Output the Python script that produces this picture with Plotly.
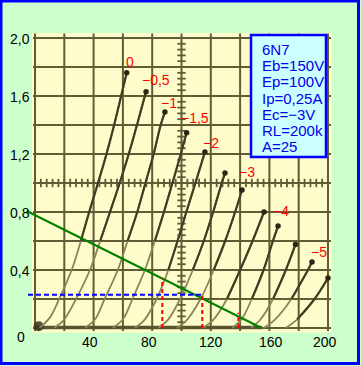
import plotly.graph_objects as go

# ---------------- data ----------------
grid_bias_labels = ["0", "−0,5", "−1", "−1,5", "−2", "−3", "−4", "−5"]

# plate voltage (V) / plate current (mA) (Ug = 0 ... -5.5 V step 0.5)
plate_voltage_curves = [
    [3, 10, 16.5, 25, 31.3, 37, 43, 48.8, 54, 58.8, 62.6],
    [13, 20, 28, 37.5, 44.5, 51.2, 57.8, 64, 69.6, 75.8],
    [34, 41, 47.5, 56.5, 63.2, 69.8, 75.4, 81, 85.8, 88.7],
    [53, 60, 66.5, 75, 81.8, 88, 93.8, 99.5, 103.5],
    [68, 75, 83, 91, 97.3, 103.3, 109.5, 116],
    [84, 91, 99, 107.7, 115.2, 121.6, 127.5, 129.7],
    [97, 104, 113, 122, 129.8, 136.6, 141.3],
    [114.5, 122, 131, 140, 148.5, 156.3],
    [134.5, 141, 148, 156, 162.4, 165.9],
    [147.5, 154, 162.5, 171.2, 177.8],
    [156, 164, 175, 186.3, 189.1],
    [171, 179, 190.8, 200],
]
plate_current_curves = [
    [0, 0.07, 0.2, 0.4, 0.6, 0.8, 1.0, 1.2, 1.4, 1.6, 1.76],
    [0, 0.06, 0.2, 0.4, 0.6, 0.8, 1.0, 1.2, 1.4, 1.63],
    [0, 0.06, 0.2, 0.4, 0.6, 0.8, 1.0, 1.2, 1.4, 1.49],
    [0, 0.06, 0.2, 0.4, 0.6, 0.8, 1.0, 1.2, 1.347],
    [0, 0.06, 0.2, 0.4, 0.6, 0.8, 1.0, 1.214],
    [0, 0.06, 0.2, 0.4, 0.6, 0.8, 1.0, 1.069],
    [0, 0.06, 0.2, 0.4, 0.6, 0.8, 0.952],
    [0, 0.06, 0.2, 0.4, 0.6, 0.8],
    [0, 0.06, 0.2, 0.4, 0.6, 0.703],
    [0, 0.06, 0.2, 0.4, 0.576],
    [0, 0.06, 0.2, 0.4, 0.455],
    [0, 0.06, 0.2, 0.345],
]

load_line_va = [-5.7, 154.7]
load_line_ip = [0.807, 0.0]
operating_ip = 0.23
projection_va = [86.9, 114.2, 138.8]
projection_ip = [0.345, 0.23, 0.105]
baseline_va = [0, 155]

x_tick_vals = [40, 80, 120, 160, 200]
x_tick_text = ["40", "80", "120", "160", "200"]
y_tick_vals = [0.4, 0.8, 1.2, 1.6, 2.0]
y_tick_text = ["0,4", "0,8", "1,2", "1,6", "2,0"]
info_lines = ["6N7", "Eb=150V", "Ep=100V", "Ip=0,25A", "Ec=−3V", "RL=200k", "A=25"]

# ---------------- layout geometry ----------------
W, H = 361, 366
ML, MR, MT, MB = 23, 28, 33, 33
PX0, PXS = 35.0, 1.465      # pixel of Va=0, pixels per volt
PY0, PYS = 328.0, 145.0     # pixel of Ip=0, pixels per mA


def px2x(px):
    return (px - PX0) / PXS


def py2y(py):
    return (PY0 - py) / PYS


def ppx(px):
    return (px - ML) / (W - ML - MR)


def ppy(py):
    return (H - MB - py) / (H - MT - MB)


X_RANGE = [px2x(ML), px2x(W - MR)]
Y_RANGE = [py2y(H - MB), py2y(MT)]

GRID = "#5f5c36"
FONT = "Liberation Sans, Arial, sans-serif"

fig = go.Figure()

# thick dark baseline and origin smudge
fig.add_trace(go.Scatter(x=baseline_va, y=[0.004, 0.004], mode="lines",
                         line=dict(color="#57532f", width=3.5), hoverinfo="skip"))
fig.add_trace(go.Scatter(x=[2.5], y=[0.012], mode="markers",
                         marker=dict(size=10, color="#33311b", opacity=0.85), hoverinfo="skip"))

# graticule ticks on the centre cross
fig.add_trace(go.Scatter(x=[v * 4 for v in range(51)], y=[1.0] * 51, mode="markers",
                         marker=dict(symbol="line-ns", size=6, line=dict(color=GRID, width=1.8)),
                         hoverinfo="skip"))
fig.add_trace(go.Scatter(x=[100] * 51, y=[v * 0.04 for v in range(51)], mode="markers",
                         marker=dict(symbol="line-ew", size=6, line=dict(color=GRID, width=1.8)),
                         hoverinfo="skip"))

# characteristic curves
for va, ip in zip(plate_voltage_curves, plate_current_curves):
    fig.add_trace(go.Scatter(x=va, y=ip, mode="lines", line_shape="spline",
                             line=dict(color="#8a845a", width=1.8), hoverinfo="skip"))
    top = ip[-1]
    k = next(i for i, v in enumerate(ip) if v >= 0.45 * top)
    k = max(k - 1, 0)
    fig.add_trace(go.Scatter(x=va[k:], y=ip[k:], mode="lines", line_shape="spline",
                             line=dict(color="#403d24", width=2.2), hoverinfo="skip"))
    fig.add_trace(go.Scatter(x=[va[-1]], y=[ip[-1]], mode="markers",
                             marker=dict(size=5.5, color="#2a2814"), hoverinfo="skip"))

# load line
fig.add_trace(go.Scatter(x=load_line_va, y=load_line_ip, mode="lines",
                         line=dict(color="#008000", width=2), hoverinfo="skip"))

# operating point projections
fig.add_trace(go.Scatter(x=[px2x(28), projection_va[1]], y=[operating_ip, operating_ip], mode="lines",
                         line=dict(color="#0000ff", width=2, dash="5px,3px"), hoverinfo="skip"))
for va, ip in zip(projection_va, projection_ip):
    fig.add_trace(go.Scatter(x=[va, va], y=[0, ip], mode="lines",
                             line=dict(color="#ff0000", width=2, dash="4px,3px"), hoverinfo="skip"))

shapes = []
# beige chart paper
shapes.append(dict(type="rect", xref="x", yref="y", x0=px2x(32), x1=px2x(331.5),
                   y0=py2y(332.5), y1=py2y(33), fillcolor="#fffccc", line=dict(width=0), layer="below"))
for i in range(11):
    v = i * 20
    shapes.append(dict(type="line", xref="x", yref="y", x0=v, x1=v, y0=py2y(331), y1=py2y(33.5),
                       line=dict(color=GRID, width=2), layer="below"))
    h = i * 0.2
    shapes.append(dict(type="line", xref="x", yref="y", x0=px2x(33), x1=px2x(331), y0=h, y1=h,
                       line=dict(color=GRID, width=2), layer="below"))
# info box
shapes.append(dict(type="rect", xref="x", yref="y", x0=px2x(251), x1=px2x(326),
                   y0=py2y(157), y1=py2y(35), fillcolor="#ccffff",
                   line=dict(color="#0000ff", width=2.5), layer="above"))
# outer border
shapes.append(dict(type="rect", xref="paper", yref="paper", x0=ppx(1), x1=ppx(358.5),
                   y0=ppy(363.5), y1=ppy(1), line=dict(color="#0000ff", width=3),
                   fillcolor="rgba(0,0,0,0)", layer="above"))

ann = []
for v, t in zip(y_tick_vals, y_tick_text):
    ann.append(dict(x=ppx(32), y=v, xref="paper", yref="y", text=t, showarrow=False,
                    xanchor="right", yanchor="middle", yshift=-1,
                    font=dict(family=FONT, size=14, color="#000000")))
x_label_px = [90, 149, 211, 271, 325]
for v, t, c in zip(x_tick_vals, x_tick_text, x_label_px):
    ann.append(dict(x=v, y=ppy(342), xref="x", yref="paper", text=t, showarrow=False,
                    xanchor="center", yanchor="middle", xshift=c - (PX0 + v * PXS),
                    font=dict(family=FONT, size=14, color="#000000")))
ann.append(dict(x=ppx(21), y=ppy(337), xref="paper", yref="paper", text="0", showarrow=False,
                xanchor="center", yanchor="middle", font=dict(family=FONT, size=14, color="#000000")))

label_px = [(129.5, 62), (156, 80), (168.5, 103), (195, 118), (210.5, 143),
            (247, 172), (280.5, 211), (319, 252)]
for t, (lx, ly) in zip(grid_bias_labels, label_px):
    ann.append(dict(x=px2x(lx), y=py2y(ly), xref="x", yref="y", text=t, showarrow=False,
                    xanchor="center", yanchor="middle",
                    font=dict(family=FONT, size=14, color="#ff0000")))

info_py = [49, 65, 81, 98, 114, 130, 146]
for t, ly in zip(info_lines, info_py):
    ann.append(dict(x=px2x(260), y=py2y(ly), xref="x", yref="y", text=t, showarrow=False,
                    xanchor="left", yanchor="middle",
                    font=dict(family=FONT, size=15, color="#0000ee")))

fig.update_layout(
    width=W, height=H,
    margin=dict(l=ML, r=MR, t=MT, b=MB, pad=0),
    paper_bgcolor="#ccffcc", plot_bgcolor="#ccffcc",
    showlegend=False,
    xaxis=dict(range=X_RANGE, visible=False, fixedrange=True),
    yaxis=dict(range=Y_RANGE, visible=False, fixedrange=True),
    shapes=shapes, annotations=ann,
)

fig.write_html(
    "out.html",
    config={"displayModeBar": False},
    post_script="document.body.style.margin='0px';document.body.style.overflow='hidden';"
                "document.documentElement.style.overflow='hidden';",
)
